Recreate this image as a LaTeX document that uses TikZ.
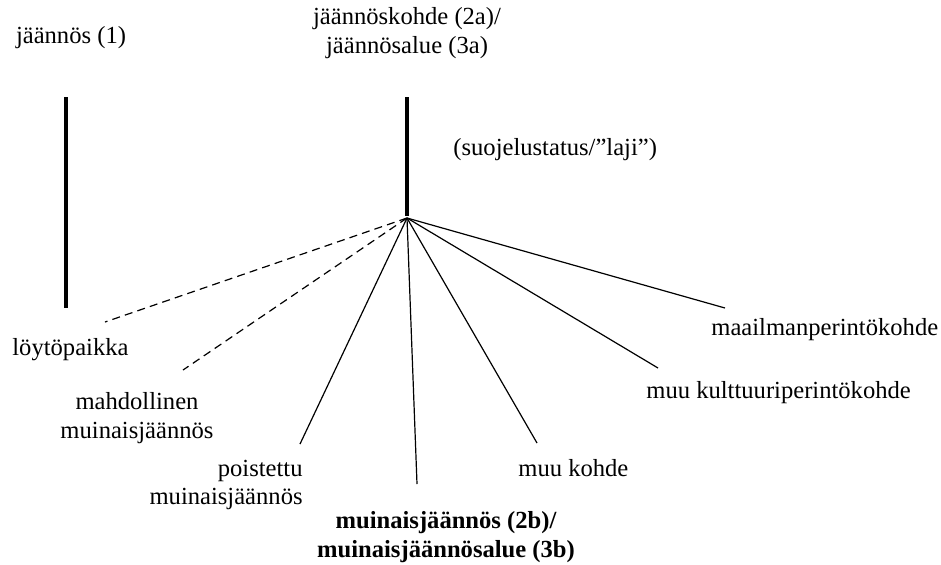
\documentclass[tikz,border=0pt]{standalone}
\usepackage{fontspec}
\setmainfont{Liberation Serif}
\usetikzlibrary{positioning}

\begin{document}
\begin{tikzpicture}[x=0.5pt,y=-0.5pt,
    label/.style={inner sep=0pt,align=center,font=\fontsize{12.3}{14.2}\selectfont},
    bar/.style={line width=1.65pt},
    branch/.style={line width=0.6pt},
    maybe/.style={branch,dash pattern=on 4pt off 2.6pt}]
    \useasboundingbox (0,0) rectangle (941,564);

    % Draw the two levels
    \node[label] (remnant) at (71,38) {jäännös (1)};
    \node[label] (site) at (407,33) {jäännöskohde (2a)/\\jäännösalue (3a)};
    \draw[bar] (66,97) -- (66,308);
    \draw[bar] (407,97) -- (407,216);
    \node[label,anchor=west] (status) at (453,150) {(suojelustatus/”laji”)};

    % Branch point under the site bar
    \coordinate (hub) at (407,218);

    % Draw dashed branches (not protected)
    \node[label,anchor=west] (findspot) at (12,350) {löytöpaikka};
    \node[label] (possible) at (137,418) {mahdollinen\\muinaisjäännös};
    \coordinate (findspot end) at (105,322);
    \coordinate (possible end) at (183,370);
    \draw[maybe] (hub) -- (findspot end);
    \draw[maybe] (hub) -- (possible end);

    % Draw solid branches
    \node[label,anchor=east,align=right] (removed) at (303,485) {poistettu\\muinaisjäännös};
    \node[label,font=\fontsize{12.3}{14.2}\selectfont\bfseries] (ancient) at (446,537)
        {muinaisjäännös (2b)/\\muinaisjäännösalue (3b)};
    \node[label,anchor=west] (other) at (518,468) {muu kohde};
    \node[label,anchor=west] (heritage) at (646,393) {muu kulttuuriperintökohde};
    \node[label,anchor=west] (world) at (711,330) {maailmanperintökohde};
    \coordinate (removed end) at (300,444);
    \coordinate (ancient end) at (417,484);
    \coordinate (other end) at (537,443);
    \coordinate (heritage end) at (658,368);
    \coordinate (world end) at (725,308);
    \foreach \e in {removed end,ancient end,other end,heritage end,world end} {
        \draw[branch] (hub) -- (\e);
    }
\end{tikzpicture}
\end{document}
